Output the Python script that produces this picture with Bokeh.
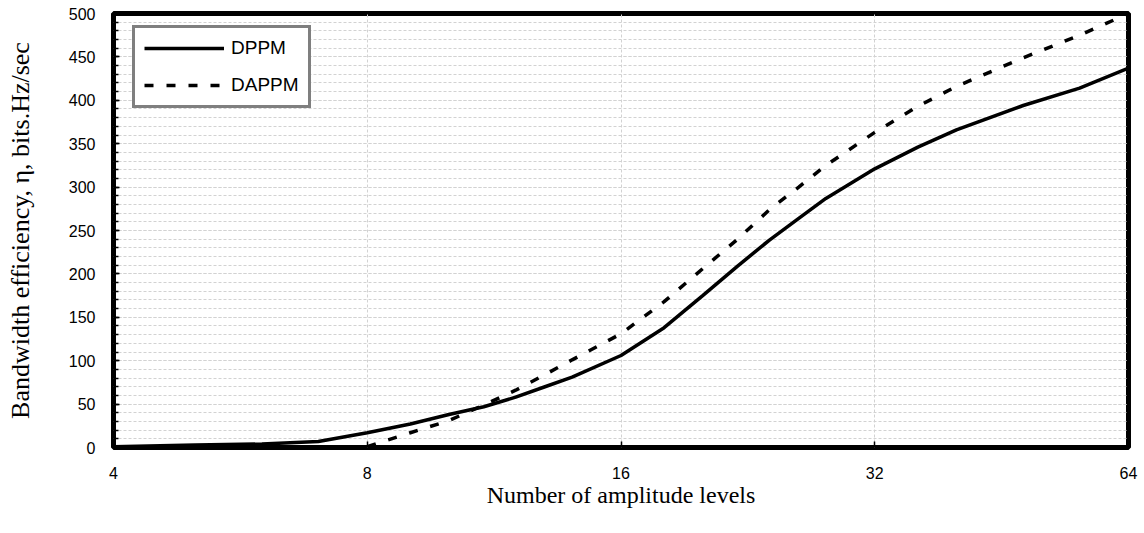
from bokeh.plotting import figure
from bokeh.models import (Range1d, FixedTicker, SingleIntervalTicker, PrintfTickFormatter,
                          Legend, LegendItem)
from bokeh.embed import file_html
from bokeh.resources import INLINE

# ---- data ----
x_levels = [4, 5, 6, 7, 8, 9, 10, 11, 12, 13, 14, 16, 18, 20, 22, 24, 26, 28, 32, 36, 40, 48, 56, 64]
dppm = [1, 3, 4, 7, 17, 27, 38, 47, 58, 70, 81, 106, 138, 175, 209, 239, 264, 287, 321, 346, 366, 394, 414, 437]

x_dappm = [8, 9, 10, 11, 12, 13, 14, 16, 18, 20, 22, 24, 26, 28, 32, 36, 40, 48, 56, 64]
dappm = [1, 17, 31, 49, 66, 84, 101, 131, 168, 206, 240, 274, 300, 325, 363, 393, 416, 449, 475, 500]

x_ticks = [4, 8, 16, 32, 64]
x_grid = [8, 16, 32]
y_major = 50
y_minor_count = 5

W, H = 1144, 533
p = figure(width=W, height=H, x_axis_type="log", output_backend="svg", toolbar_location=None,
           x_range=Range1d(4, 64), y_range=Range1d(0, 500),
           min_border_left=113, min_border_right=16, min_border_top=13, min_border_bottom=86)
p.background_fill_color = "white"
p.border_fill_color = "white"
p.outline_line_color = "black"
p.outline_line_width = 5

# grids
grid_col = "#d2d2d2"
p.xgrid.ticker = FixedTicker(ticks=x_grid)
p.xgrid.grid_line_color = grid_col
p.xgrid.grid_line_dash = "3 2"
p.xgrid.grid_line_width = 1
p.ygrid.ticker = SingleIntervalTicker(interval=y_major, num_minor_ticks=y_minor_count)
p.ygrid.grid_line_color = grid_col
p.ygrid.grid_line_dash = "3 2"
p.ygrid.minor_grid_line_color = grid_col
p.ygrid.minor_grid_line_dash = "3 2"

# axes
p.xaxis.ticker = FixedTicker(ticks=x_ticks, minor_ticks=[])
p.xaxis.formatter = PrintfTickFormatter(format="%d")
p.yaxis.ticker = SingleIntervalTicker(interval=y_major, num_minor_ticks=y_minor_count)
for ax in (p.xaxis[0], p.yaxis[0]):
    ax.axis_line_color = None
    ax.major_tick_out = 0
    ax.major_tick_in = 6
    ax.minor_tick_out = 0
    ax.minor_tick_in = 5
    ax.major_tick_line_color = "black"
    ax.major_tick_line_width = 1.5
    ax.minor_tick_line_color = "black"
    ax.minor_tick_line_width = 1.5
    ax.major_label_text_font = "Liberation Sans"
    ax.major_label_text_font_size = "16px"
    ax.major_label_text_color = "black"
    ax.axis_label_text_font = "Liberation Serif"
    ax.axis_label_text_font_style = "normal"
    ax.axis_label_text_color = "black"
p.xaxis.axis_label_text_font_size = "24px"
p.yaxis.axis_label_text_font_size = "26px"
p.xaxis.minor_tick_in = 0
p.xaxis.major_label_standoff = 19
p.yaxis.major_label_standoff = 18
p.xaxis.axis_label = "Number of amplitude levels"
p.yaxis.axis_label = "Bandwidth efficiency, \u03b7, bits.Hz/sec"
p.xaxis.axis_label_standoff = 0
p.yaxis.axis_label_standoff = 31

r1 = p.line(x_levels, dppm, line_color="black", line_width=3.5)
r2 = p.line(x_dappm, dappm, line_color="black", line_width=3.5, line_dash="9 13")

legend = Legend(items=[LegendItem(label="DPPM", renderers=[r1]),
                       LegendItem(label="DAPPM", renderers=[r2])],
                location=(19, 339))
legend.border_line_color = "black"
legend.border_line_width = 3
legend.background_fill_color = "white"
legend.background_fill_alpha = 1
legend.label_text_font = "Liberation Sans"
legend.label_text_font_size = "19px"
legend.label_text_color = "black"
legend.glyph_width = 80
legend.glyph_height = 22
legend.label_height = 22
legend.padding = 9
legend.spacing = 15
legend.label_standoff = 7
legend.margin = 0
p.add_layout(legend, "center")

open("out.html", "w").write(file_html(p, INLINE))
